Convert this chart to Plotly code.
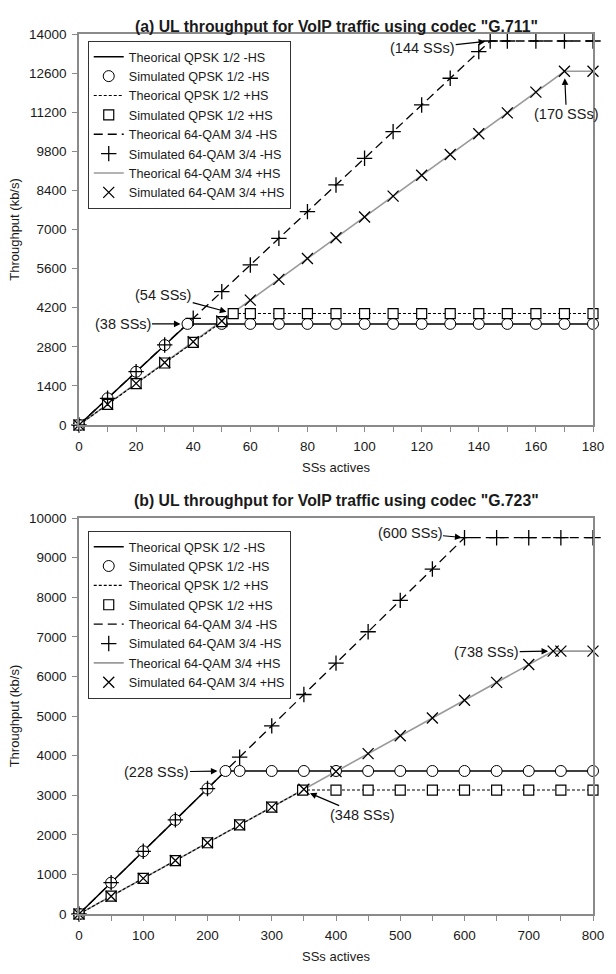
import plotly.graph_objects as go

# ---------------- (a) G.711 ----------------
a_qpsk_mhs_theo_x = [0, 38, 180]
a_qpsk_mhs_theo_y = [0, 3620, 3620]
a_qpsk_mhs_sim_x = [0, 10, 20, 30, 38, 50, 60, 70, 80, 90, 100, 110, 120, 130, 140, 150, 160, 170, 180]
a_qpsk_mhs_sim_y = [0, 955, 1905, 2860, 3620, 3620, 3620, 3620, 3620, 3620, 3620, 3620, 3620, 3620, 3620, 3620, 3620, 3620, 3620]

a_qpsk_phs_theo_x = [0, 54, 180]
a_qpsk_phs_theo_y = [0, 3990, 3990]
a_qpsk_phs_sim_x = [0, 10, 20, 30, 40, 50, 54, 60, 70, 80, 90, 100, 110, 120, 130, 140, 150, 160, 170, 180]
a_qpsk_phs_sim_y = [0, 740, 1480, 2220, 2960, 3700, 3990, 3990, 3990, 3990, 3990, 3990, 3990, 3990, 3990, 3990, 3990, 3990, 3990, 3990]

a_qam_mhs_theo_x = [0, 144, 180]
a_qam_mhs_theo_y = [0, 13750, 13750]
a_qam_mhs_sim_x = [0, 10, 20, 30, 40, 50, 60, 70, 80, 90, 100, 110, 120, 130, 140, 144, 150, 160, 170, 180]
a_qam_mhs_sim_y = [0, 955, 1910, 2865, 3820, 4775, 5730, 6685, 7640, 8595, 9550, 10505, 11460, 12415, 13370, 13750, 13750, 13750, 13750, 13750]

a_qam_phs_theo_x = [0, 170, 180]
a_qam_phs_theo_y = [0, 12665, 12665]
a_qam_phs_sim_x = [0, 10, 20, 30, 40, 50, 60, 70, 80, 90, 100, 110, 120, 130, 140, 150, 160, 170, 180]
a_qam_phs_sim_y = [0, 745, 1490, 2235, 2980, 3725, 4470, 5215, 5960, 6705, 7450, 8195, 8940, 9685, 10430, 11175, 11920, 12665, 12665]

# ---------------- (b) G.723 ----------------
b_qpsk_mhs_theo_x = [0, 228, 800]
b_qpsk_mhs_theo_y = [0, 3612, 3612]
b_qpsk_mhs_sim_x = [0, 50, 100, 150, 200, 228, 250, 300, 350, 400, 450, 500, 550, 600, 650, 700, 750, 800]
b_qpsk_mhs_sim_y = [0, 792, 1584, 2376, 3168, 3612, 3612, 3612, 3612, 3612, 3612, 3612, 3612, 3612, 3612, 3612, 3612, 3612]

b_qpsk_phs_theo_x = [0, 348, 800]
b_qpsk_phs_theo_y = [0, 3130, 3130]
b_qpsk_phs_sim_x = [0, 50, 100, 150, 200, 250, 300, 348, 400, 450, 500, 550, 600, 650, 700, 750, 800]
b_qpsk_phs_sim_y = [0, 450, 900, 1350, 1800, 2250, 2700, 3130, 3130, 3130, 3130, 3130, 3130, 3130, 3130, 3130, 3130]

b_qam_mhs_theo_x = [0, 600, 800]
b_qam_mhs_theo_y = [0, 9504, 9504]
b_qam_mhs_sim_x = [0, 50, 100, 150, 200, 250, 300, 350, 400, 450, 500, 550, 600, 650, 700, 750, 800]
b_qam_mhs_sim_y = [0, 792, 1584, 2376, 3168, 3960, 4752, 5544, 6336, 7128, 7920, 8712, 9504, 9504, 9504, 9504, 9504]

b_qam_phs_theo_x = [0, 738, 800]
b_qam_phs_theo_y = [0, 6640, 6640]
b_qam_phs_sim_x = [0, 50, 100, 150, 200, 250, 300, 350, 400, 450, 500, 550, 600, 650, 700, 738, 750, 800]
b_qam_phs_sim_y = [0, 450, 900, 1350, 1800, 2250, 2700, 3150, 3600, 4050, 4500, 4950, 5400, 5850, 6300, 6640, 6640, 6640]

series_names = [
    "Theorical QPSK 1/2 -HS", "Simulated QPSK 1/2 -HS",
    "Theorical QPSK 1/2 +HS", "Simulated QPSK 1/2 +HS",
    "Theorical 64-QAM 3/4 -HS", "Simulated 64-QAM 3/4 -HS",
    "Theorical 64-QAM 3/4 +HS", "Simulated 64-QAM 3/4 +HS",
]

titles = ['(a) UL throughput for VoIP traffic using codec "G.711"',
          '(b) UL throughput for VoIP traffic using codec "G.723"']

FONT = "Liberation Sans, Arial, sans-serif"
FS = 13.5
TXT = "#1a1a1a"
AXC = "#8a8a8a"

fig = go.Figure()

def add_panel(data, xa, ya, legend):
    (q1tx, q1ty, q1sx, q1sy, q2tx, q2ty, q2sx, q2sy,
     m1tx, m1ty, m1sx, m1sy, m2tx, m2ty, m2sx, m2sy) = data
    common = dict(xaxis=xa, yaxis=ya, legend=legend, cliponaxis=False)
    fig.add_trace(go.Scatter(x=m2tx, y=m2ty, mode="lines", name=series_names[6],
                             line=dict(color="#9a9a9a", width=1.6), legendrank=7, **common))
    fig.add_trace(go.Scatter(x=m1tx, y=m1ty, mode="lines", name=series_names[4],
                             line=dict(color="black", width=1.3, dash="9px,5px"), legendrank=5, **common))
    fig.add_trace(go.Scatter(x=q2tx, y=q2ty, mode="lines", name=series_names[2],
                             line=dict(color="black", width=1.1, dash="3px,2px"), legendrank=3, **common))
    fig.add_trace(go.Scatter(x=q1tx, y=q1ty, mode="lines", name=series_names[0],
                             line=dict(color="black", width=1.5), legendrank=1, **common))
    fig.add_trace(go.Scatter(x=q1sx, y=q1sy, mode="markers", name=series_names[1],
                             marker=dict(symbol="circle", size=11, color="white",
                                         line=dict(color="black", width=1)), legendrank=2, **common))
    fig.add_trace(go.Scatter(x=q2sx, y=q2sy, mode="markers", name=series_names[3],
                             marker=dict(symbol="square", size=10, color="white",
                                         line=dict(color="black", width=1.2)), legendrank=4, **common))
    fig.add_trace(go.Scatter(x=m1sx, y=m1sy, mode="markers", name=series_names[5],
                             marker=dict(symbol="cross-thin", size=11, color="black",
                                         line=dict(color="black", width=1.3)), legendrank=6, **common))
    fig.add_trace(go.Scatter(x=m2sx, y=m2sy, mode="markers", name=series_names[7],
                             marker=dict(symbol="x-thin", size=11, color="black",
                                         line=dict(color="black", width=1.3)), legendrank=8, **common))

add_panel((a_qpsk_mhs_theo_x, a_qpsk_mhs_theo_y, a_qpsk_mhs_sim_x, a_qpsk_mhs_sim_y,
           a_qpsk_phs_theo_x, a_qpsk_phs_theo_y, a_qpsk_phs_sim_x, a_qpsk_phs_sim_y,
           a_qam_mhs_theo_x, a_qam_mhs_theo_y, a_qam_mhs_sim_x, a_qam_mhs_sim_y,
           a_qam_phs_theo_x, a_qam_phs_theo_y, a_qam_phs_sim_x, a_qam_phs_sim_y),
          "x", "y", "legend")
add_panel((b_qpsk_mhs_theo_x, b_qpsk_mhs_theo_y, b_qpsk_mhs_sim_x, b_qpsk_mhs_sim_y,
           b_qpsk_phs_theo_x, b_qpsk_phs_theo_y, b_qpsk_phs_sim_x, b_qpsk_phs_sim_y,
           b_qam_mhs_theo_x, b_qam_mhs_theo_y, b_qam_mhs_sim_x, b_qam_mhs_sim_y,
           b_qam_phs_theo_x, b_qam_phs_theo_y, b_qam_phs_sim_x, b_qam_phs_sim_y),
          "x2", "y2", "legend2")

axis_common = dict(showgrid=False, zeroline=False, showline=True, linecolor=AXC, linewidth=1.5,
                   mirror=True, ticks="outside", ticklen=5, tickcolor=AXC, tickwidth=1,
                   tickformat="d", ticklabelstandoff=3,
                   tickfont=dict(family=FONT, size=FS, color=TXT))

legend_common = dict(bgcolor="white", bordercolor="#333", borderwidth=1,
                     font=dict(family=FONT, size=12.6, color=TXT),
                     entrywidth=225, entrywidthmode="pixels",
                     xanchor="left", yanchor="top", traceorder="normal")

title_font = dict(family=FONT, size=13, color=TXT)

fig.update_layout(
    width=616, height=974, plot_bgcolor="white", paper_bgcolor="white",
    margin=dict(l=79, r=12, t=34, b=51),
    xaxis=dict(domain=[0, 1], anchor="y", range=[0, 180], dtick=20, tick0=0,
               minor=dict(dtick=10, ticks="outside", ticklen=5, tickcolor=AXC),
               title=dict(text="SSs actives", font=title_font, standoff=10),
               **axis_common),
    yaxis=dict(domain=[0.5557, 1], anchor="x", range=[0, 14000], dtick=1400, tick0=0,
               title=dict(text="Throughput (kb/s)", font=title_font, standoff=6),
               **axis_common),
    xaxis2=dict(domain=[0, 1], anchor="y2", range=[0, 800], dtick=100, tick0=0,
                minor=dict(dtick=50, ticks="outside", ticklen=5, tickcolor=AXC),
                title=dict(text="SSs actives", font=title_font, standoff=10),
                **axis_common),
    yaxis2=dict(domain=[0, 0.44994], anchor="x2", range=[0, 10000], dtick=1000, tick0=0,
                title=dict(text="Throughput (kb/s)", font=title_font, standoff=6),
                **axis_common),
    legend=dict(x=0.017, y=0.992, **legend_common),
    legend2=dict(x=0.017, y=0.4353, **legend_common),
    showlegend=True,
)

# panel titles
fig.add_annotation(text="<b>" + titles[0] + "</b>", xref="paper", yref="paper", x=0.5, y=1,
                   yshift=18, showarrow=False, font=dict(family=FONT, size=15.8, color=TXT))
fig.add_annotation(text="<b>" + titles[1] + "</b>", xref="paper", yref="paper", x=0.5, y=0.44994,
                   yshift=18, showarrow=False, font=dict(family=FONT, size=15.8, color=TXT))

callout_labels = ["(38 SSs)", "(54 SSs)", "(144 SSs)", "(170 SSs)",
                  "(600 SSs)", "(738 SSs)", "(228 SSs)", "(348 SSs)"]
callouts = [
    (callout_labels[0], a_qpsk_mhs_sim_x[4], a_qpsk_mhs_sim_y[4], -65, 0, 7, "x", "y"),
    (callout_labels[1], a_qpsk_phs_sim_x[6], a_qpsk_phs_sim_y[6], -70, -19, 7, "x", "y"),
    (callout_labels[2], a_qam_mhs_sim_x[15], a_qam_mhs_sim_y[15], -68, 7, 5, "x", "y"),
    (callout_labels[3], a_qam_phs_sim_x[17], a_qam_phs_sim_y[17], 2, 43, 7, "x", "y"),
    (callout_labels[4], b_qam_mhs_sim_x[12], b_qam_mhs_sim_y[12], -55, -5, 3, "x2", "y2"),
    (callout_labels[5], b_qam_phs_sim_x[15], b_qam_phs_sim_y[15], -67, 1, 5, "x2", "y2"),
    (callout_labels[6], b_qpsk_mhs_sim_x[5], b_qpsk_mhs_sim_y[5], -69, 1, 8, "x2", "y2"),
    (callout_labels[7], b_qpsk_phs_sim_x[7], b_qpsk_phs_sim_y[7], 59, 25, 8, "x2", "y2"),
]
for label, x, y, ax, ay, so, xr, yr in callouts:
    fig.add_annotation(text=label, x=x, y=y, xref=xr, yref=yr, ax=ax, ay=ay,
                       showarrow=True, arrowhead=2, arrowsize=1.1, arrowwidth=1.2,
                       arrowcolor="black", standoff=so, bgcolor="rgba(0,0,0,0)",
                       font=dict(family=FONT, size=14.5, color=TXT))

fig.write_html("out.html", config={"displayModeBar": False},
               post_script="document.body.style.margin='0';")
